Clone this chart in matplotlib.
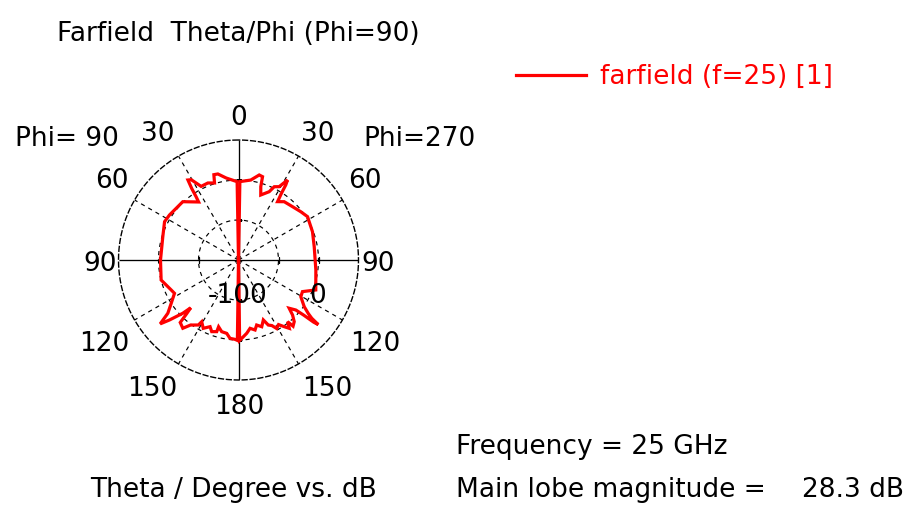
import numpy as np
import matplotlib
matplotlib.use("Agg")
import matplotlib.pyplot as plt

plt.rcParams["font.family"] = ["DejaVu Sans"]
plt.rcParams["lines.scale_dashes"] = False

# Farfield cut, Phi = 90 half-plane (theta in degrees, gain in dB)
theta_phi90 = [0, 1.0, 8.5, 13.5, 16.1, 17.3, 21.7, 26.9, 30.5, 32.3, 33.2, 33.8, 34.5,
               43.7, 56.9, 62.6, 72.9, 90, 104.5, 114, 117.5, 122.8, 127, 129.2, 131,
               133.7, 135, 136, 137, 140.8, 143.6, 148.3, 149.2, 152.7, 156.9, 159.5,
               163.1, 163.4, 166.8, 170.9, 173.8, 177.5, 179.2, 180]
gain_phi90 = [-100, -2.1, 3.6, 10.6, 11.0, 0.8, 3.6, 3.2, 16.5, 18.3, 6.6, -4.4, -12.0,
              0.8, 3.0, 4.1, -1.0, -2.5, -0.1, -7.9, -9.8, 0.1, 10.6, 26.3, 14.3,
              -3.6, -15.5, -6.6, 6.8, 10.1, 1.0, -4.5, -10.2, -3.9, -9.4, -4.4,
              -6.4, -12.9, -8.0, -7.1, -1.5, -0.7, 0.5, -100]

# Farfield cut, Phi = 270 half-plane
theta_phi270 = [0, 1.0, 8.7, 13.7, 16.1, 16.9, 18.9, 24.2, 26, 29, 31.5, 32.2, 32.8, 33.8,
                38.1, 45.4, 52.2, 57.9, 61.5, 69.1, 80, 97.4, 111.2, 116.3, 120.5, 125.4,
                127.5, 128.5, 129, 129.6, 130.2, 131.1, 133.6, 135.5, 137.9, 140.5, 141.5,
                143.4, 145.6, 148.2, 150.9, 153, 155.4, 157.5, 160.8, 164.4, 166.7, 170.4,
                173.6, 177.6, 179.2, 180]
gain_phi270 = [-100, -2.0, 1.1, 9.4, 8.4, -4.2, -14.1, -6.4, 1.9, 4.8, 17.3, 10.9, -1.2, -12.2,
               -7.4, -5.1, -1.5, 1.9, 0.5, -1.0, -3.9, -2.5, 3.6, -10.8, -9.6, 0.8,
               10.0, 17.0, 28.3, 22.0, 7.0, -4.9, -12.5, -3.6, 3.9, 7.2, -1.5,
               6.4, 1.0, -5.0, -2.0, -8.0, -10.6, -18.9, -11.7, -15.6, -10.1, -13.4,
               -7.8, -2.0, 0.5, -100]

db_min, db_max = -100, 50
ring_levels = [-50, 0]
ring_labels = ["-100", "0"]
angle_ticks = [0, 30, 60, 90, 120, 150, 180]

W, H = 911, 507
fig = plt.figure(figsize=(W / 100, H / 100), dpi=100)
fig.patch.set_facecolor("white")


def fx(px):
    return px / W


def fy(py):
    return 1 - py / H


cx, cy, rad = 238.5, 260, 120
ax = fig.add_axes([fx(cx - rad), fy(cy + rad), 2 * rad / W, 2 * rad / H],
                  projection="polar")
ax.set_theta_zero_location("N")
ax.set_theta_direction(1)
ax.set_ylim(0, db_max - db_min)
ax.set_xticks([])
ax.set_yticks([])
ax.grid(False)
ax.spines["polar"].set_visible(False)
ax.patch.set_visible(False)

rmax = db_max - db_min
full = np.linspace(0, 2 * np.pi, 721)

# outer boundary
ax.plot(full, np.full_like(full, rmax), color="black", lw=1.0,
        linestyle=(0, (4.5, 1.2)), clip_on=False)
# inner dashed rings
for lvl in ring_levels:
    ax.plot(full, np.full_like(full, lvl - db_min), color="black", lw=0.85,
            linestyle=(0, (3, 3)))
# angular grid: solid axes and dashed spokes
for a in range(0, 360, 30):
    t = np.deg2rad(a)
    if a % 90 == 0:
        ax.plot([t, t], [0, rmax], color="black", lw=0.95, solid_capstyle="butt")
    else:
        ax.plot([t, t], [0, rmax], color="black", lw=0.85, linestyle=(0, (3, 3)))
# small ticks where the rings cross the axes
for lvl in ring_levels:
    for a in (90, 270):
        ax.plot([np.deg2rad(a)], [lvl - db_min], marker="|", ms=5, mew=0.9, color="black")
    for a in (0, 180):
        ax.plot([np.deg2rad(a)], [lvl - db_min], marker="_", ms=5, mew=0.9, color="black")

# radiation pattern (phi=90 to the left, phi=270 to the right)
r90 = np.clip(np.array(gain_phi90) - db_min, 0, None)
r270 = np.clip(np.array(gain_phi270) - db_min, 0, None)
ax.plot(np.deg2rad(theta_phi90), r90, color="#ff0000", lw=2.3, solid_joinstyle="miter")
ax.plot(-np.deg2rad(theta_phi270), r270, color="#ff0000", lw=2.3, solid_joinstyle="miter")

fs = 19
txt = dict(fontsize=fs, color="black")

# angle labels (theta, mirrored on both halves)
left_pos = {0: (238.5, 125), 30: (158, 141), 60: (112, 188), 90: (100, 271),
            120: (104, 351), 150: (152, 396), 180: (239, 414)}
right_pos = {30: (317.5, 141), 60: (365, 188), 90: (378, 271),
             120: (375, 351), 150: (327, 396)}
for a in angle_ticks:
    x, y = left_pos[a]
    fig.text(fx(x), fy(y), str(a), ha="center", va="baseline", **txt)
    if a in right_pos:
        x, y = right_pos[a]
        fig.text(fx(x), fy(y), str(a), ha="center", va="baseline", **txt)

# radial labels
fig.text(fx(238), fy(303), ring_labels[0], ha="center", va="baseline", **txt)
fig.text(fx(318), fy(303), ring_labels[1], ha="center", va="baseline", **txt)

fig.text(fx(57), fy(41), "Farfield  Theta/Phi (Phi=90)", ha="left", va="baseline", **txt)
fig.text(fx(15), fy(146), "Phi= 90", ha="left", va="baseline", **txt)
fig.text(fx(363), fy(146), "Phi=270", ha="left", va="baseline", **txt)

# legend
fig.add_artist(plt.Line2D([fx(516), fx(586)], [fy(75), fy(75)], color="#ff0000", lw=2.3))
fig.text(fx(600), fy(84), "farfield (f=25) [1]", ha="left", va="baseline",
         fontsize=fs, color="#ff0000")

fig.text(fx(456), fy(454), "Frequency = 25 GHz", ha="left", va="baseline", **txt)
fig.text(fx(456), fy(497), "Main lobe magnitude =", ha="left", va="baseline", **txt)
fig.text(fx(904), fy(497), f"{max(gain_phi270):.1f} dB", ha="right", va="baseline", **txt)
fig.text(fx(90), fy(497), "Theta / Degree vs. dB", ha="left", va="baseline", **txt)

fig.savefig("out.png", dpi=100, facecolor="white")
